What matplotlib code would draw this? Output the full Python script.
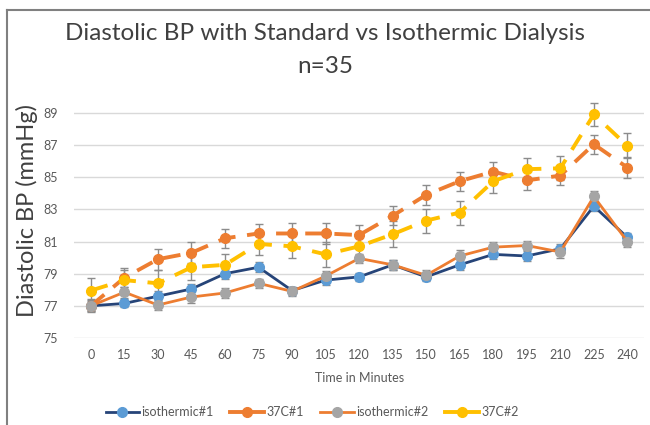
import matplotlib
matplotlib.use("Agg")
from matplotlib import pyplot as plt
from matplotlib.lines import Line2D
import numpy as np

minutes = [0, 15, 30, 45, 60, 75, 90, 105, 120, 135, 150, 165, 180, 195, 210, 225, 240]

iso1 = [77.0, 77.15, 77.6, 78.05, 79.0, 79.4, 77.95, 78.6, 78.8, 79.55, 78.8, 79.55, 80.2, 80.1, 80.55, 83.2, 81.25]
iso1_err = [0.3, 0.25, 0.3, 0.3, 0.3, 0.3, 0.25, 0.3, 0.25, 0.3, 0.25, 0.3, 0.3, 0.3, 0.3, 0.3, 0.3]

c37_1 = [77.0, 78.75, 79.9, 80.3, 81.2, 81.5, 81.5, 81.5, 81.4, 82.6, 83.9, 84.75, 85.35, 84.8, 85.1, 87.05, 85.6]
c37_1_err = [0.4, 0.6, 0.65, 0.65, 0.6, 0.6, 0.65, 0.65, 0.6, 0.6, 0.63, 0.6, 0.6, 0.6, 0.6, 0.6, 0.63]

iso2 = [77.0, 77.85, 77.05, 77.55, 77.8, 78.4, 77.9, 78.85, 79.95, 79.55, 78.9, 80.1, 80.65, 80.75, 80.35, 83.8, 81.0]
iso2_err = [0.35, 0.35, 0.3, 0.35, 0.3, 0.3, 0.3, 0.3, 0.3, 0.3, 0.3, 0.35, 0.35, 0.3, 0.4, 0.35, 0.35]

c37_2 = [77.95, 78.6, 78.4, 79.4, 79.55, 80.85, 80.7, 80.2, 80.7, 81.45, 82.3, 82.8, 84.75, 85.5, 85.55, 88.9, 86.95]
c37_2_err = [0.8, 0.6, 0.8, 0.8, 0.7, 0.7, 0.75, 0.8, 0.7, 0.8, 0.75, 0.75, 0.75, 0.7, 0.75, 0.7, 0.77]

plt.rcParams['font.family'] = ['Lato', 'DejaVu Sans']

fig = plt.figure(figsize=(6.5, 4.25), dpi=100)
ax = fig.add_axes([0.114, 0.2047, 0.877, 0.56])

x = np.arange(len(minutes))
err_kw = dict(ecolor='#8c8c8c', elinewidth=1, capsize=3, capthick=1)

series = [
    (iso1, iso1_err, '#264478', '#5B9BD5', '-', 'isothermic#1'),
    (c37_1, c37_1_err, '#ED7D31', '#ED7D31', '--', '37C#1'),
    (iso2, iso2_err, '#ED7D31', '#A5A5A5', '-', 'isothermic#2'),
    (c37_2, c37_2_err, '#FFC000', '#FFC000', '--', '37C#2'),
]

handles = []
for vals, errs, lc, mc, ls, name in series:
    lw = 2.0 if ls == '-' else 2.8
    ax.errorbar(x, vals, yerr=errs, fmt='none', **err_kw, zorder=2, clip_on=False)
    line, = ax.plot(x, vals, color=lc, linewidth=lw, zorder=3, clip_on=False,
                    marker='o', markersize=7, markerfacecolor=mc, markeredgecolor=mc)
    if ls == '--':
        line.set_dashes([4.5, 3])
    handles.append(Line2D([], [], color=lc, linewidth=lw, linestyle='-',
                          marker='o', markersize=7, markerfacecolor=mc,
                          markeredgecolor=mc, label=name))

ax.set_xlim(-0.5, len(minutes) - 0.5)
ax.set_ylim(75, 89.8)
ax.set_yticks(np.arange(75, 90, 2))
ax.set_xticks(x)
ax.set_xticklabels([str(m) for m in minutes])
ax.yaxis.grid(True, color='#d9d9d9', linewidth=1)
ax.set_axisbelow(True)
for s in ax.spines.values():
    s.set_visible(False)
ax.tick_params(length=0, labelsize=9, labelcolor='#595959')
ax.tick_params(axis='x', pad=8)
ax.tick_params(axis='y', pad=12)

ax.set_xlabel('Time in Minutes', fontsize=9, color='#595959', labelpad=8)
fig.text(0.042, 0.505, 'Diastolic BP (mmHg)', rotation=90, fontsize=17,
         color='#404040', ha='center', va='center')

fig.text(0.50, 0.922, 'Diastolic BP with Standard vs Isothermic Dialysis',
         fontsize=17.5, color='#404040', ha='center', va='center')
fig.text(0.50, 0.843, 'n=35', fontsize=17.5, color='#404040', ha='center', va='center')

fig.legend(handles=handles, loc='center', bbox_to_anchor=(0.48, 0.03), ncol=4,
           frameon=False, fontsize=9, labelcolor='#595959', handlelength=2.7,
           columnspacing=1.3, handletextpad=0.2)

fig.add_artist(Line2D([0.011, 0.011], [0, 0.976], color='#808080', linewidth=1.5))
fig.add_artist(Line2D([0.011, 1.0], [0.976, 0.976], color='#808080', linewidth=1.5))

fig.savefig('out.png', dpi=100)
